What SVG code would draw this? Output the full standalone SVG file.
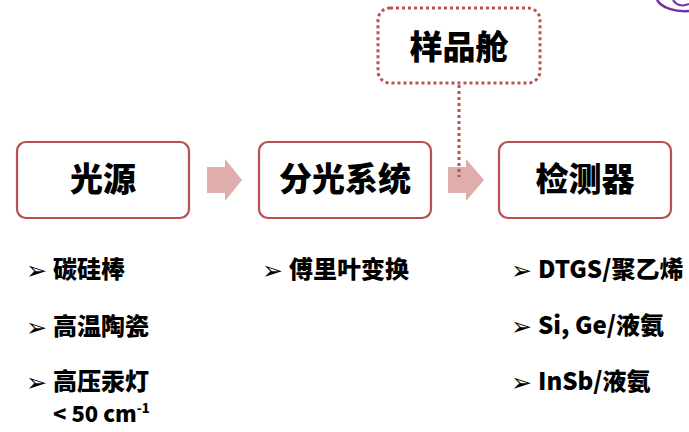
<svg xmlns="http://www.w3.org/2000/svg" width="689" height="432" viewBox="0 0 689 432">
<style>
.box{fill:#fff;stroke:#B9504E;stroke-width:2.2}
.dot{fill:none;stroke:#C0504D;stroke-width:3;stroke-dasharray:3 3}
.arrow{fill:#E0ADAD}
.t{font-family:"Noto Sans CJK SC","Noto Sans",sans-serif;font-weight:900;fill:#000}
.title{font-size:33px;text-anchor:middle}
.item{font-size:24px}
.bul{font-family:"DejaVu Sans",sans-serif;font-size:25px;fill:#000}
</style>
<rect width="689" height="432" fill="#fff"/>
<g id="deco">
<path d="M657,0 C662,8 675,12 689,11" fill="none" stroke="#7030A0" stroke-width="2.5"/>
<path d="M673,0 C676,5 682,7 689,4" fill="none" stroke="#7030A0" stroke-width="2"/>
</g>
<g id="connectors">
<path class="arrow" d="M207,167 H225 V159 L242,180 L225,201 V193 H207 Z"/>
<path class="arrow" d="M448,167 H466 V159 L484,180 L466,201 V193 H448 Z"/>
<line class="dot" x1="459" y1="85" x2="459" y2="177"/>
</g>
<g id="sample">
<rect class="dot" x="378" y="8" width="162" height="75" rx="12"/>
<text class="t title" x="459" y="59">样品舱</text>
</g>
<g id="source">
<rect class="box" x="17" y="142" width="172" height="76" rx="9"/>
<text class="t title" x="103" y="191">光源</text>
</g>
<g id="mono">
<rect class="box" x="259" y="142" width="172" height="76" rx="9"/>
<text class="t title" x="345" y="191">分光系统</text>
</g>
<g id="detector">
<rect class="box" x="499" y="142" width="172" height="76" rx="9"/>
<text class="t title" x="585" y="191">检测器</text>
</g>
<g id="list1">
<text class="bul" x="26" y="279">➢</text>
<text class="t item" x="53" y="278">碳硅棒</text>
<text class="bul" x="26" y="336">➢</text>
<text class="t item" x="53" y="335">高温陶瓷</text>
<text class="bul" x="26" y="391">➢</text>
<text class="t item" x="53" y="390">高压汞灯</text>
<text class="t" x="53" y="422" font-size="22">&lt; 50 cm<tspan font-size="13" dy="-9">-1</tspan></text>
</g>
<g id="list2">
<text class="bul" x="262" y="279">➢</text>
<text class="t item" x="289" y="278">傅里叶变换</text>
</g>
<g id="list3">
<text class="bul" x="511" y="279">➢</text>
<text class="t" x="538" y="278" font-size="24">DTGS/聚乙烯</text>
<text class="bul" x="511" y="335">➢</text>
<text class="t" x="538" y="334" font-size="24">Si, Ge/液氨</text>
<text class="bul" x="511" y="391">➢</text>
<text class="t" x="538" y="390" font-size="24">InSb/液氨</text>
</g>
</svg>
